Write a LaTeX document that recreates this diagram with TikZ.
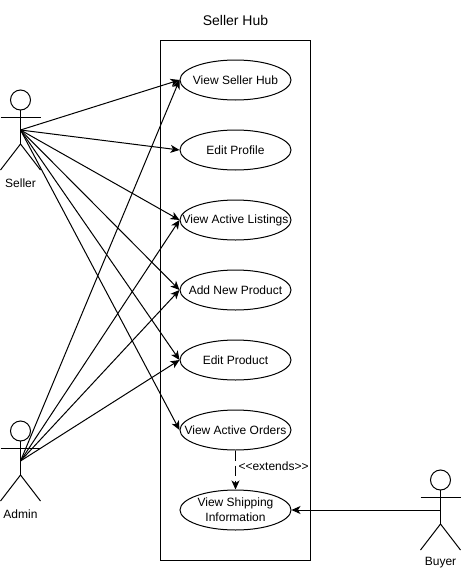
\documentclass[tikz,border=0pt]{standalone}
\usepackage{xcolor}
\usepackage{fontspec}
\setmainfont{Liberation Sans}
\usetikzlibrary{shapes.geometric,arrows.meta}
\tikzset{
  usecase/.style={ellipse, draw=black, line width=1pt, fill=white, minimum width=111pt, minimum height=40pt, inner xsep=-15pt, inner ysep=0pt, align=center, font=\fontsize{12}{15}\selectfont},
  assoc/.style={draw=black, line width=1pt, -{Stealth[length=9pt,width=8pt,inset=2.5pt]}},
  extline/.style={assoc, dash pattern=on 10pt off 5pt},
  actorline/.style={draw=black, line width=1pt},
  lab/.style={font=\fontsize{12}{14}\selectfont},
}

\begin{document}
\begin{tikzpicture}[x=1pt,y=-1pt]
  \useasboundingbox (0,0) rectangle (461,571);

  \node[font=\fontsize{14}{16}\selectfont] (hubTitle) at (235.5,20) {Seller Hub};
  \draw[actorline] (160.5,40.5) rectangle (310.5,560.5); % system boundary

  \node[usecase] (ucHub) at (235.5,80) {View Seller Hub};
  \node[usecase] (ucProfile) at (235.5,150) {Edit Profile};
  \node[usecase] (ucListings) at (235.5,220) {View Active Listings};
  \node[usecase] (ucAdd) at (235.5,290) {Add New Product};
  \node[usecase] (ucEdit) at (235.5,360) {Edit Product};
  \node[usecase] (ucOrders) at (235.5,430) {View Active Orders};
  \node[usecase] (ucShip) at (235.5,510) {View Shipping\\Information};

  % actors
  \foreach \nm/\ax/\ay/\txt in {seller/20.5/130/Seller, admin/20.5/461/Admin, buyer/440.5/510/Buyer}{
    \coordinate (\nm) at (\ax,\ay);
    \draw[actorline] (\ax,\ay-30) circle (10);
    \draw[actorline] (\ax,\ay-20) -- (\ax,\ay+14);
    \draw[actorline] (\ax-20,\ay-13) -- (\ax+20,\ay-13);
    \draw[actorline] (\ax-20,\ay+40) -- (\ax,\ay+14) -- (\ax+20,\ay+40);
    \node[lab] (\nm Lab) at (\ax,\ay+53) {\txt};
  }

  \foreach \uc in {ucHub,ucProfile,ucListings,ucAdd,ucEdit,ucOrders}
    \draw[assoc] (seller) -- (\uc.west);
  \foreach \uc in {ucHub,ucListings,ucAdd,ucEdit}
    \draw[assoc] (admin) -- (\uc.west);
  \draw[assoc] (buyer) -- (ucShip.east);

  \draw[extline] (ucOrders.south) -- (ucShip.north);
  \node[lab, anchor=west] (extLab) at (235,466) {<{}<extends>{}>};
\end{tikzpicture}
\end{document}
